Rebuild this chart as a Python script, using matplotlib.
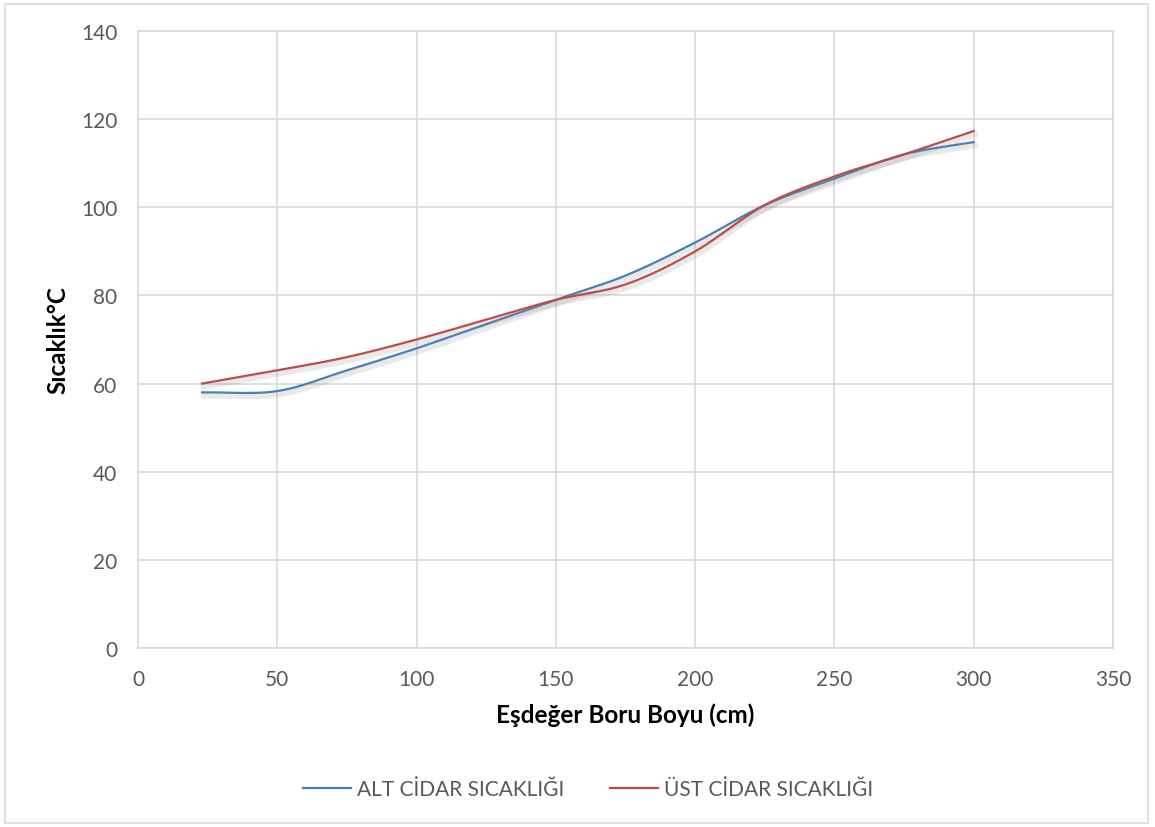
import numpy as np
import matplotlib.pyplot as plt
import matplotlib.patheffects as pe
from matplotlib.patches import Rectangle

# values
boru_boyu = [23, 50, 75, 100, 125, 150, 175, 200, 225, 250, 275, 300]
alt_cidar = [58.0, 58.3, 63.0, 68.0, 73.5, 79.0, 84.5, 92.0, 100.5, 106.5, 112.0, 114.8]
ust_cidar = [60.0, 63.0, 66.0, 70.0, 74.5, 79.0, 82.5, 90.0, 100.5, 107.0, 112.0, 117.3]

x_ticks = [0, 50, 100, 150, 200, 250, 300, 350]
y_ticks = [0, 20, 40, 60, 80, 100, 120, 140]


def smooth(x, y, n=30):
    """Catmull-Rom smoothing like Excel's smoothed line"""
    x = np.asarray(x, float)
    y = np.asarray(y, float)
    px = np.concatenate([[2 * x[0] - x[1]], x, [2 * x[-1] - x[-2]]])
    py = np.concatenate([[2 * y[0] - y[1]], y, [2 * y[-1] - y[-2]]])
    xs, ys = [], []
    t = np.linspace(0, 1, n, endpoint=False)
    for i in range(1, len(px) - 2):
        for arr, out in ((px, xs), (py, ys)):
            p0, p1, p2, p3 = arr[i - 1], arr[i], arr[i + 1], arr[i + 2]
            out.extend(0.5 * (2 * p1 + (-p0 + p2) * t
                              + (2 * p0 - 5 * p1 + 4 * p2 - p3) * t ** 2
                              + (-p0 + 3 * p1 - 3 * p2 + p3) * t ** 3))
    xs.append(x[-1])
    ys.append(y[-1])
    return np.array(xs), np.array(ys)


plt.rcParams['font.family'] = ['Lato', 'DejaVu Sans']

fig = plt.figure(figsize=(11.55, 8.28), dpi=100)
ax = fig.add_axes([138 / 1155, 1 - 649 / 828, 975 / 1155, 617 / 828])

shadow = [pe.SimpleLineShadow(offset=(1.0, -2.5), shadow_color='#888888', alpha=0.18, linewidth=4),
          pe.Normal()]

bx, by = smooth(boru_boyu, alt_cidar)
rx, ry = smooth(boru_boyu, ust_cidar)
ax.plot(bx, by, color='#4a7ebb', lw=1.6, label='ALT CİDAR SICAKLIĞI', path_effects=shadow)
ax.plot(rx, ry, color='#be4b48', lw=1.6, label='ÜST CİDAR SICAKLIĞI', path_effects=shadow)

ax.set_xlim(0, 350)
ax.set_ylim(0, 140)
ax.set_xticks(x_ticks)
ax.set_yticks(y_ticks)
ax.grid(True, color='#d9d9d9', lw=1.2)
ax.set_axisbelow(True)
for s in ax.spines.values():
    s.set_color('#d9d9d9')
    s.set_linewidth(1.2)
ax.tick_params(length=0, labelsize=15, labelcolor='#595959', pad=15)

ax.set_xlabel('Eşdeğer Boru Boyu (cm)', fontsize=17.5, fontweight='bold', labelpad=10)
ax.set_ylabel('Sıcaklık°C', fontsize=17.5, fontweight='bold', labelpad=8)

leg = fig.legend(loc='center', bbox_to_anchor=(588 / 1155, 1 - 790 / 828), ncol=2,
                 frameon=False, fontsize=15, handlelength=2.3, columnspacing=2.2,
                 handletextpad=0.3)
for t in leg.get_texts():
    t.set_color('#595959')
for h in leg.legend_handles:
    h.set_path_effects([])

fig.patches.append(Rectangle((5 / 1155, 4 / 828), 1143 / 1155, 819 / 828,
                             transform=fig.transFigure, fill=False,
                             edgecolor='#d9d9d9', lw=1.2))

fig.savefig('out.png', dpi=100)
